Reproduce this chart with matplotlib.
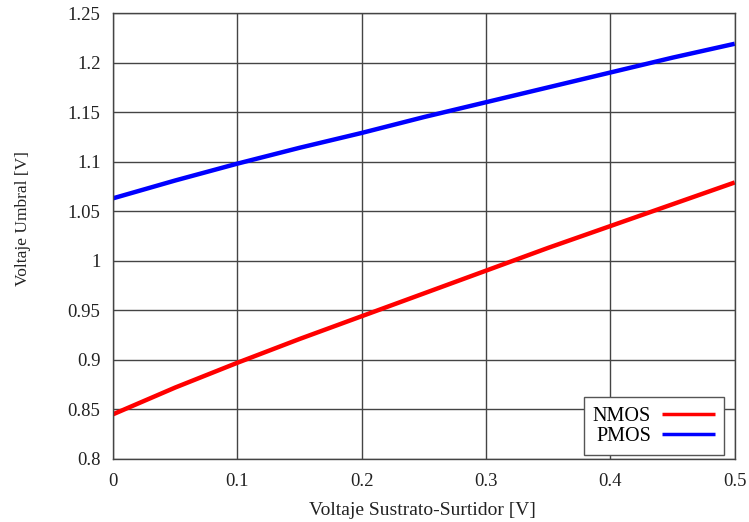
import matplotlib
matplotlib.use("Agg")
import matplotlib.pyplot as plt

# Voltaje sustrato-surtidor [V]
vsb = [0.0, 0.05, 0.1, 0.15, 0.2, 0.25, 0.3, 0.35, 0.4, 0.45, 0.5]
# Voltaje umbral [V]
vt_nmos = [0.845, 0.872, 0.897, 0.921, 0.944, 0.967, 0.990, 1.013, 1.035, 1.057, 1.079]
vt_pmos = [1.063, 1.081, 1.098, 1.114, 1.129, 1.145, 1.160, 1.175, 1.190, 1.205, 1.219]

x_ticks = [0, 0.1, 0.2, 0.3, 0.4, 0.5]
x_ticklabels = ["0", "0.1", "0.2", "0.3", "0.4", "0.5"]
y_ticks = [0.8, 0.85, 0.9, 0.95, 1.0, 1.05, 1.1, 1.15, 1.2, 1.25]
y_ticklabels = ["0.8", "0.85", "0.9", "0.95", "1", "1.05", "1.1", "1.15", "1.2", "1.25"]

plt.rcParams["font.family"] = ["Liberation Serif", "DejaVu Serif"]
plt.rcParams["font.size"] = 13

fig = plt.figure(figsize=(7.49, 5.22), dpi=100)
ax = fig.add_axes([0.151, 0.121, 0.830, 0.854])

ax.plot(vsb, vt_nmos, color="#ff0000", lw=3.2, label="NMOS", solid_capstyle="butt")
ax.plot(vsb, vt_pmos, color="#0000ff", lw=3.2, label="PMOS", solid_capstyle="butt")

ax.set_xlim(0, 0.5)
ax.set_ylim(0.8, 1.25)
ax.set_xticks(x_ticks)
ax.set_xticklabels(x_ticklabels)
ax.set_yticks(y_ticks)
ax.set_yticklabels(y_ticklabels)
ax.tick_params(length=0, labelsize=13.5, colors="#222222")
ax.tick_params(axis="x", pad=10)
ax.tick_params(axis="y", pad=9)
ax.grid(True, color="#444444", lw=1.0)
ax.set_axisbelow(True)
for s in ax.spines.values():
    s.set_color("#444444")
    s.set_linewidth(1.0)

ax.set_xlabel("Voltaje Sustrato-Surtidor [V]", fontsize=14, color="#222222")
ax.set_ylabel("Voltaje Umbral [V]", fontsize=12.5, color="#222222")
ax.xaxis.set_label_coords(0.497, -0.097)
ax.yaxis.set_label_coords(-0.132, 0.54)

leg = ax.legend(loc="lower right", bbox_to_anchor=(0.982, 0.009), markerfirst=False,
                fancybox=False, framealpha=1, edgecolor="#555555", fontsize=14.5,
                handlelength=2.6, handletextpad=0.55, borderaxespad=0,
                labelspacing=0.05, borderpad=0.45)
leg.get_frame().set_linewidth(1.0)
for line in leg.get_lines():
    line.set_linewidth(2.5)

fig.savefig("out.png", dpi=100, facecolor="white")
